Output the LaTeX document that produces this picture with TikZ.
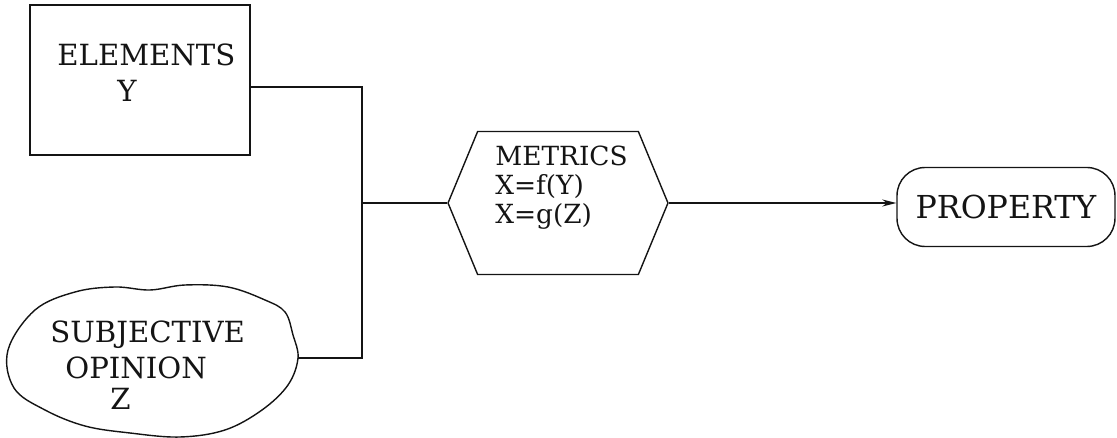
\documentclass[tikz,border=0pt]{standalone}
\usepackage{fontspec}
\setmainfont{DejaVu Serif}
\usepackage{tikz}
\usetikzlibrary{shapes.symbols, shapes.misc, arrows.meta, positioning, calc}
\definecolor{ink}{RGB}{20,20,20}
\tikzset{
  txt/.style={font=\fontsize{16.6}{18}\selectfont, align=left, inner sep=0pt, text=ink},
  elembox/.style={rectangle, draw=ink, line width=0.8pt,
    minimum width=4.4cm, minimum height=3.0cm, inner sep=0pt},
  hexbox/.style={signal, signal to=east and west, signal pointer angle=135,
    draw=ink, line width=0.8pt, minimum width=4.4cm, minimum height=2.86cm, inner sep=0pt},
  propbox/.style={rectangle, rounded corners=16pt, draw=ink, line width=0.8pt,
    minimum width=4.36cm, minimum height=1.58cm, font=\fontsize{18}{20}\selectfont, text=ink},
  arrow/.style={-{Stealth[length=8pt, width=4pt]}, line width=0.8pt, color=ink},
  line/.style={line width=0.8pt, color=ink}
}
\begin{document}
\begin{tikzpicture}[x=0.02cm, y=-0.02cm]
  \useasboundingbox (0,0) rectangle (1117,438);

  % Elements
  \node[elembox] (elements) at (140,80) {};
  \node[txt, anchor=north west] (elemtext) at (57,44) {ELEMENTS\\[2pt]\hspace{1.2cm}Y};

  % Subjective opinion
  \draw[line] plot[smooth cycle, tension=0.6] coordinates {
    (8,350) (35,310) (75,292) (115,287) (150,290) (185,285) (228,287)
    (265,300) (285,312) (293,335) (298,358) (288,385) (262,410)
    (225,430) (180,437) (130,433) (85,426) (45,410) (14,388)};
  \coordinate (cloudR) at (298,358);
  \node[txt, anchor=north west] (opinion) at (50,321) {SUBJECTIVE\\[2pt]\hspace{0.3cm}OPINION\\\hspace{1.2cm}Z};

  % Metrics
  \node[hexbox] (metrics) at (558,203) {};
  \node[txt, anchor=north west, font=\fontsize{15}{16.5}\selectfont] (mettext) at (495,146) {METRICS\\X=f(Y)\\X=g(Z)};

  % Property
  \node[propbox] (property) at (1006,207) {PROPERTY};

  % Connectors
  \coordinate (jtop) at (362,87);
  \coordinate (jmid) at (362,203);
  \coordinate (jbot) at (362,358);
  \draw[line] (elements.east |- jtop) -- (jtop) -- (jbot) -- (cloudR);
  \draw[line] (jmid) -- (metrics.west);
  \draw[arrow] (metrics.east) -- (property.west |- metrics.east);
\end{tikzpicture}
\end{document}
